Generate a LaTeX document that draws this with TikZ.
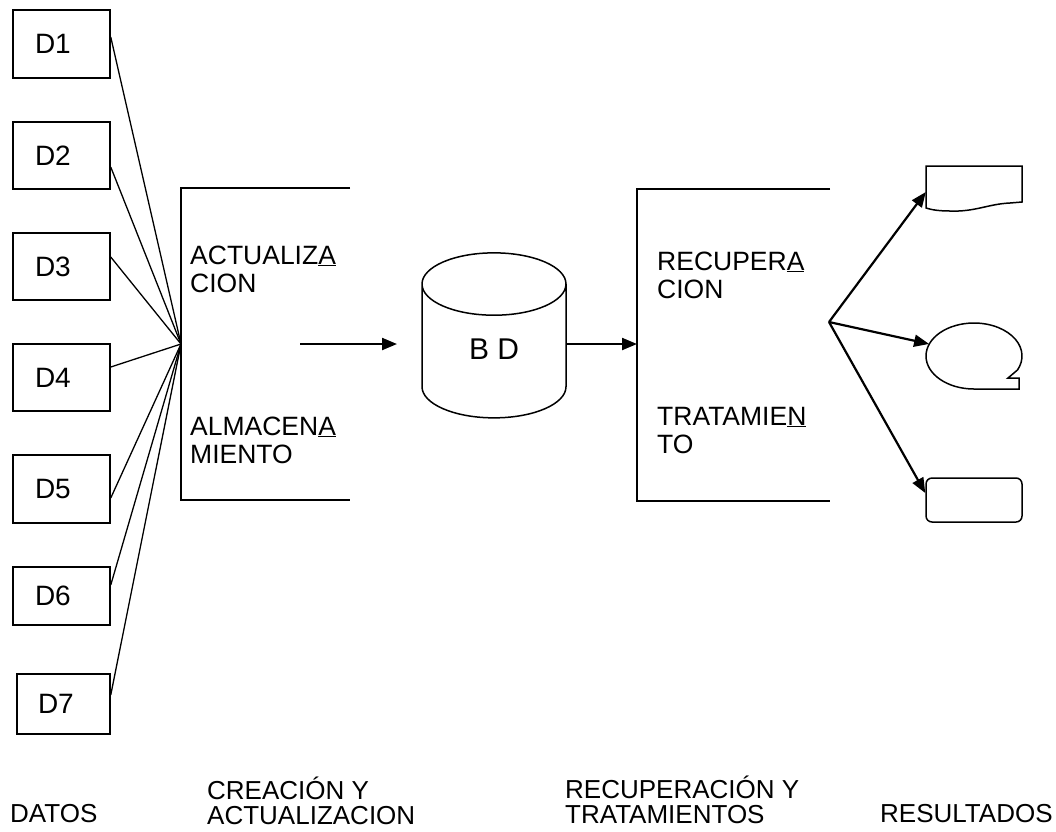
\documentclass[tikz,border=0pt]{standalone}
\usepackage{fontspec}
\setmainfont{Liberation Sans}
\usepackage{tikz}
\usetikzlibrary{positioning}
\usetikzlibrary{shapes,arrows.meta}
\tikzset{%
  block/.style = {draw, line width=1.5pt, rectangle, minimum height=68pt,
    minimum width=97pt, text width=53pt, inner xsep=22pt, align=left,
    font=\fontsize{28pt}{30pt}\selectfont},
  db/.style    = {draw, line width=1.5pt, cylinder, shape border rotate=90,
    aspect=1.1, text depth=14pt, minimum width=144pt, minimum height=165pt,
    font=\fontsize{30pt}{32pt}\selectfont}, % Base de datos
  txt/.style   = {anchor=base west, align=left, inner sep=0pt,
    font=\fontsize{26.5pt}{28pt}\selectfont},
  foot/.style  = {anchor=base west, align=left, inner sep=0pt,
    font=\fontsize{26pt}{25pt}\selectfont},
  wire/.style  = {line width=1.3pt},
  flow/.style  = {->, line width=2.2pt},
  frame/.style = {line width=1.5pt}
}

\begin{document}
\begin{tikzpicture}[x=1pt, y=-1pt, >={Triangle[length=15pt,width=12pt]}]
  \useasboundingbox (0,0) rectangle (1056,831);

  % datos
  \draw node at (61.5,44) [block] (d1) {D1};
  \draw node at (61.5,155.5) [block, minimum height=67pt] (d2) {D2};
  \draw node at (61.5,266.5) [block, minimum height=67pt] (d3) {D3};
  \draw node at (61.5,377.5) [block, minimum height=67pt] (d4) {D4};
  \draw node at (61.5,489) [block] (d5) {D5};
  \draw node at (61.5,596) [block, minimum height=58pt] (d6) {D6};
  \draw node at (63.5,704) [block, minimum height=60pt, minimum width=93pt,
    text width=51pt, inner xsep=21pt] (d7) {D7};

  % creacion y actualizacion
  \coordinate (hub) at (181,344);
  \draw[frame] (350,188) -- (181,188) -- (181,500) -- (350,500);
  \draw node at (190,292) [txt] (actu) {ACTUALIZ\underline{A}\\CION};
  \draw node at (190,463) [txt] (alma) {ALMACEN\underline{A}\\MIENTO};

  \draw[wire] ([yshift=7pt]d1.east) -- (hub);
  \draw[wire] ([yshift=-11.5pt]d2.east) -- (hub);
  \draw[wire] ([yshift=9.5pt]d3.east) -- (hub);
  \draw[wire] ([yshift=10.5pt]d4.east) -- (hub);
  \draw[wire] ([yshift=-9pt]d5.east) -- (hub);
  \draw[wire] ([yshift=11pt]d6.east) -- (hub);
  \draw[wire] ([yshift=9pt]d7.east) -- (hub);

  % base de datos
  \coordinate (src) at (300,344);
  \coordinate (dst) at (397,344);
  \draw node at (494,356) [db] (bd) {B D};
  \draw[flow] (src) -- (dst);

  % recuperacion y tratamiento
  \coordinate (rin) at (637,344);
  \draw[frame] (830,189) -- (637,189) -- (637,501) -- (830,501);
  \draw node at (657,298) [txt] (recu) {RECUPER\underline{A}\\CION};
  \draw node at (657,453) [txt] (trat) {TRATAMIE\underline{N}\\TO};
  \draw[flow] (bd.east |- rin) -- (rin);

  % resultados
  \coordinate (fan) at (829,322);
  \node (doc) [minimum width=96pt, minimum height=36pt] at (974,184) {};
  \draw[frame] (1022,202) -- (1022,166) -- (926,166) -- (926,208)
    .. controls (932,210) and (940,211) .. (950,211)
    .. controls (975,212) and (988,204) .. (1010,203) -- cycle;
  \node (bubble) [ellipse, minimum width=96pt, minimum height=66pt] at (974,356) {};
  \draw[frame] (974,389) arc[start angle=270, end angle=-25, x radius=48pt, y radius=33pt]
    -- (1008,378) -- (1019,378) -- (1019,389) -- cycle;
  \draw node at (974,500) [draw, line width=1.5pt, rounded corners=6pt,
    minimum width=96pt, minimum height=44pt] (box) {};

  \draw[flow] (fan) -- ([yshift=-8pt]doc.west);
  \draw[flow] (fan) -- (bubble.165);
  \draw[flow] (fan) -- ([yshift=7pt]box.west);

  % rotulos
  \draw node at (10,822) [foot] (datos) {DATOS};
  \draw node at (207,824) [foot] (crea) {CREACIÓN Y\\ACTUALIZACION};
  \draw node at (565,823) [foot] (recup) {RECUPERACIÓN Y\\TRATAMIENTOS};
  \draw node at (880,822) [foot] (resu) {RESULTADOS};
\end{tikzpicture}
\end{document}
